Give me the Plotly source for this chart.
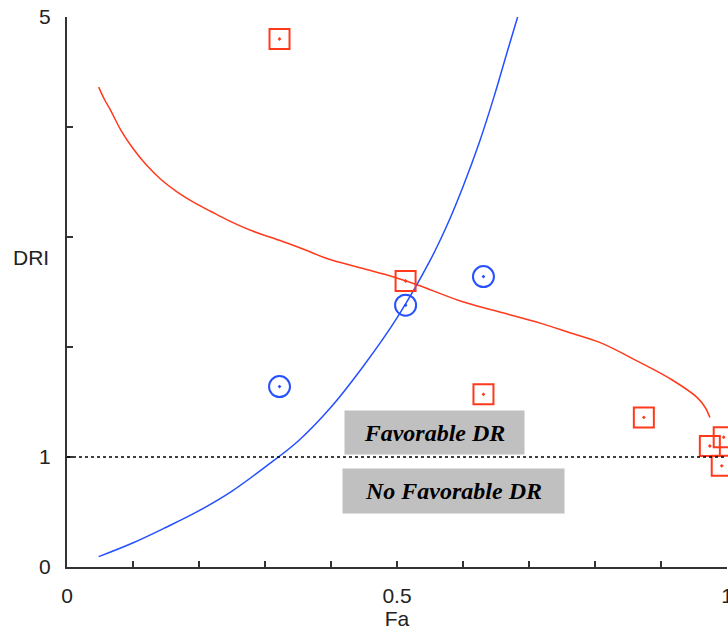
import plotly.graph_objects as go

# Data
red_pts_fa = [0.322, 0.513, 0.631, 0.874, 0.974, 0.995, 0.992]
red_pts_dri = [4.80, 2.60, 1.57, 1.36, 1.10, 1.18, 0.92]

blue_pts_fa = [0.322, 0.513, 0.631]
blue_pts_dri = [1.64, 2.38, 2.64]

red_curve_fa = [0.048, 0.0566, 0.0667, 0.0818, 0.0995, 0.1197, 0.1424, 0.1677,
                0.1929, 0.2182, 0.2434, 0.2813, 0.3217, 0.3596, 0.3949, 0.4455,
                0.4960, 0.5313, 0.5970, 0.6475, 0.7182, 0.762, 0.808, 0.868,
                0.917, 0.955, 0.967, 0.974]
red_curve_dri = [4.362, 4.252, 4.144, 3.970, 3.809, 3.658, 3.523, 3.406,
                 3.312, 3.232, 3.154, 3.054, 2.970, 2.886, 2.802, 2.718,
                 2.634, 2.564, 2.416, 2.332, 2.215, 2.13, 2.04, 1.86,
                 1.70, 1.54, 1.45, 1.36]

blue_curve_fa = [0.048, 0.0995, 0.1495, 0.1995, 0.2495, 0.2995, 0.3495, 0.3995,
                 0.4495, 0.5, 0.55, 0.5768, 0.601, 0.6247, 0.6475, 0.6677, 0.6828]
blue_curve_dri = [0.094, 0.218, 0.359, 0.510, 0.688, 0.906, 1.141, 1.450,
                  1.830, 2.265, 2.785, 3.12, 3.473, 3.859, 4.285, 4.698, 5.0]

x_ticks = [0, 0.1, 0.2, 0.3, 0.4, 0.5, 0.6, 0.7, 0.8, 0.9, 1.0]
x_ticktext = ["0", "", "", "", "", "0.5", "", "", "", "", "1"]
y_ticks = [0, 1, 2, 3, 4, 5]
y_ticktext = ["0", "1", "", "", "", "5"]

RED = "#ff3a1c"
BLUE = "#2450ff"

fig = go.Figure()

fig.add_trace(go.Scatter(x=red_curve_fa, y=red_curve_dri, mode="lines",
                         line=dict(color=RED, width=1.5, shape="spline", smoothing=1.0),
                         hoverinfo="skip", showlegend=False))
fig.add_trace(go.Scatter(x=blue_curve_fa, y=blue_curve_dri, mode="lines",
                         line=dict(color=BLUE, width=1.5, shape="spline", smoothing=1.0),
                         hoverinfo="skip", showlegend=False))
fig.add_trace(go.Scatter(x=red_pts_fa, y=red_pts_dri, mode="markers",
                         marker=dict(symbol="square-open-dot", size=20, color=RED,
                                     line=dict(width=2, color=RED)),
                         cliponaxis=False, showlegend=False))
fig.add_trace(go.Scatter(x=blue_pts_fa, y=blue_pts_dri, mode="markers",
                         marker=dict(symbol="circle-open-dot", size=21, color=BLUE,
                                     line=dict(width=2, color=BLUE)),
                         cliponaxis=False, showlegend=False))

# dotted reference line at DRI = 1
fig.add_shape(type="line", xref="x", yref="y", x0=0, x1=1, y0=1, y1=1,
              line=dict(color="black", width=1.5, dash="dot"))

label_font = dict(family="Liberation Serif", size=24, color="black")
fig.add_annotation(x=0.557, y=1.223, xref="x", yref="y",
                   text="<b><i>Favorable DR</i></b>", showarrow=False,
                   bgcolor="#c0c0c0", width=177, height=41, font=label_font)
fig.add_annotation(x=0.5856, y=0.691, xref="x", yref="y",
                   text="<b><i>No Favorable DR</i></b>", showarrow=False,
                   bgcolor="#c0c0c0", width=219, height=42, font=label_font)

axis_font = dict(family="Liberation Sans", size=21, color="#222")
fig.add_annotation(x=-0.0545, y=2.81, xref="paper", yref="y", text="DRI",
                   xanchor="center", yanchor="middle",
                   showarrow=False, font=axis_font)

fig.update_layout(
    width=728, height=637,
    margin=dict(l=67, r=1, t=17, b=70, autoexpand=False),
    paper_bgcolor="white", plot_bgcolor="white",
    showlegend=False,
    xaxis=dict(range=[0, 1], tickvals=x_ticks, ticktext=x_ticktext,
               ticks="inside", ticklen=6, tickwidth=1.5, tickcolor="#333",
               showline=True, linecolor="#333", linewidth=2,
               showgrid=False, zeroline=False, tickfont=axis_font,
               ticklabelstandoff=9, ticklabeloverflow="allow", automargin=False,
               title=dict(text="Fa", font=axis_font, standoff=4)),
    yaxis=dict(range=[0, 5], tickvals=y_ticks, ticktext=y_ticktext,
               ticks="inside", ticklen=6, tickwidth=1.5, tickcolor="#333",
               showline=True, linecolor="#333", linewidth=2,
               showgrid=False, zeroline=False, tickfont=axis_font,
               ticklabelstandoff=10, ticklabeloverflow="allow", automargin=False),
)

fig.write_html("out.html")
